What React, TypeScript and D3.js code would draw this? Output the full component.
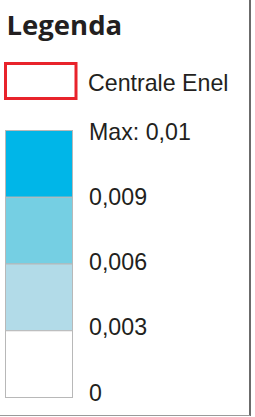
import React from "react";
import * as d3 from "d3";

const title = "Legenda";
const markerLabel = "Centrale Enel";
const binColors = ["#00b6e8", "#75cfe3", "#b2dbe8", "#ffffff"];
const tickLabels = ["Max: 0,01", "0,009", "0,006", "0,003", "0"];

const W = 255;
const H = 417;

export default function App() {
  const yBand = d3.scaleBand<number>().domain(d3.range(binColors.length)).range([130, 397]).paddingInner(0).paddingOuter(0);
  const yLab = d3.scalePoint<number>().domain(d3.range(tickLabels.length)).range([139.5, 400.5]);
  const textColor = "#231f20";
  return (
    <svg width={W} height={H} style={{ position: "absolute", left: 0, top: 0, background: "#fff" }}>
      <rect x={0} y={0} width={W} height={H} fill="#fff" />
      <text x={6.5} y={34.5} fontFamily="'Open Sans', sans-serif" fontWeight={700} fontSize={27.5} fill={textColor}>
        {title}
      </text>
      <rect x={5.5} y={63.5} width={70.5} height={35} fill="#fff" stroke="#e8232b" strokeWidth={3} />
      <text x={88} y={90.5} fontFamily="'Liberation Sans', Arial, sans-serif" fontSize={23.2} fill={textColor}>
        {markerLabel}
      </text>
      {binColors.map((c, i) => (
        <rect key={i} x={5.5} y={(yBand(i) as number) + 0.5} width={67} height={yBand.bandwidth()} fill={c} stroke="#b8b8b8" strokeWidth={1} />
      ))}
      {tickLabels.map((t, i) => (
        <text key={t} x={89} y={yLab(i)} fontFamily="'Liberation Sans', Arial, sans-serif" fontSize={23.2} fill={textColor}>
          {t}
        </text>
      ))}
      <line x1={250} x2={250} y1={0} y2={416} stroke="#3a3a3a" strokeWidth={1.5} />
      <line x1={0} x2={250} y1={415.5} y2={415.5} stroke="#9a9a9a" strokeWidth={1} />
    </svg>
  );
}
